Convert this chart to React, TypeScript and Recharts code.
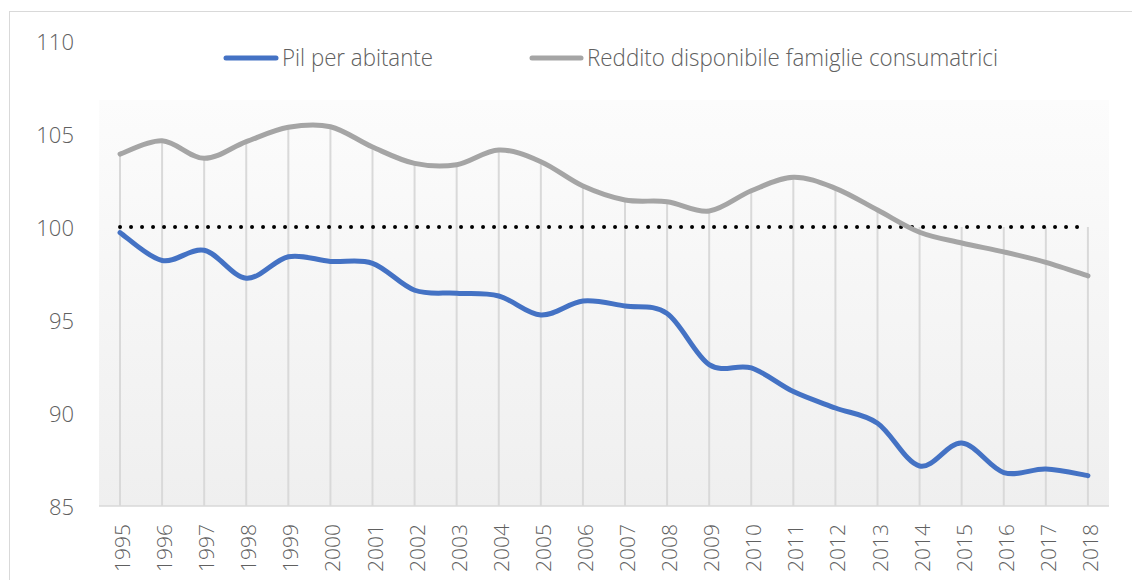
import React from 'react';
import { ComposedChart, Line, Bar, XAxis, YAxis, CartesianGrid, Legend } from 'recharts';

const years = ['1995','1996','1997','1998','1999','2000','2001','2002','2003','2004','2005','2006','2007','2008','2009','2010','2011','2012','2013','2014','2015','2016','2017','2018'];
const pilPerAbitante = [99.7, 98.2, 98.75, 97.25, 98.4, 98.15, 98.05, 96.6, 96.44, 96.29, 95.27, 96.02, 95.75, 95.35, 92.6, 92.42, 91.15, 90.27, 89.45, 87.15, 88.39, 86.8, 86.99, 86.63];
const redditoFamiglie = [103.92, 104.64, 103.69, 104.59, 105.36, 105.39, 104.3, 103.42, 103.35, 104.14, 103.51, 102.2, 101.45, 101.36, 100.86, 101.95, 102.67, 102.08, 100.91, 99.72, 99.14, 98.66, 98.1, 97.37];
const base100 = [100, 100, 100, 100, 100, 100, 100, 100, 100, 100, 100, 100, 100, 100, 100, 100, 100, 100, 100, 100, 100, 100, 100, 100];
const yTicks = [85, 90, 95, 100, 105, 110];

const seriesNames = ['Pil per abitante', 'Reddito disponibile famiglie consumatrici'];

const data = years.map((y, i) => ({
  year: y,
  pil: pilPerAbitante[i],
  reddito: redditoFamiglie[i],
  base: base100[i],
  drop: Math.max(pilPerAbitante[i], redditoFamiglie[i], base100[i]),
}));

const FONT = '"Open Sans", "Segoe UI", sans-serif';
const TEXT = '#606060';

// Excel-like smoothed line (Catmull-Rom / cardinal tension 0)
function excelCurve(context: any) {
  let pts: number[][] = [];
  return {
    areaStart() {},
    areaEnd() {},
    lineStart() { pts = []; },
    lineEnd() {
      const n = pts.length;
      if (!n) return;
      context.moveTo(pts[0][0], pts[0][1]);
      for (let i = 0; i < n - 1; i++) {
        const p0 = pts[Math.max(i - 1, 0)];
        const p1 = pts[i];
        const p2 = pts[i + 1];
        const p3 = pts[Math.min(i + 2, n - 1)];
        context.bezierCurveTo(
          p1[0] + (p2[0] - p0[0]) / 6, p1[1] + (p2[1] - p0[1]) / 6,
          p2[0] - (p3[0] - p1[0]) / 6, p2[1] - (p3[1] - p1[1]) / 6,
          p2[0], p2[1]
        );
      }
    },
    point(x: number, y: number) { pts.push([+x, +y]); },
  };
}

const YTick = (props: any) => {
  const { x, y, payload } = props;
  return (
    <text x={x} y={y} textAnchor="end" dominantBaseline="central" fill={TEXT} fontSize={22} fontFamily={FONT} fontWeight={300}>
      {payload.value}
    </text>
  );
};

const XTick = (props: any) => {
  const { x, y, payload } = props;
  return (
    <text transform={`translate(${x + 2},${y}) rotate(-90)`} textAnchor="end" dominantBaseline="central" fill={TEXT} fontSize={21} fontFamily={FONT} fontWeight={300}>
      {payload.value}
    </text>
  );
};

const renderLegend = () => (
  <svg width={1132} height={80} style={{ display: 'block' }}>
    <line x1={226} y1={58} x2={276} y2={58} stroke="#4472C4" strokeWidth={5} strokeLinecap="round" />
    <text x={282} y={66} fill={TEXT} fontSize={24} fontFamily={FONT} fontWeight={300} textLength={151} lengthAdjust="spacingAndGlyphs">{seriesNames[0]}</text>
    <line x1={532} y1={58} x2={581} y2={58} stroke="#A5A5A5" strokeWidth={5} strokeLinecap="round" />
    <text x={587} y={66} fill={TEXT} fontSize={24} fontFamily={FONT} fontWeight={300} textLength={411} lengthAdjust="spacingAndGlyphs">{seriesNames[1]}</text>
  </svg>
);

export default function App() {
  return (
    <div style={{ position: 'relative', width: 1132, height: 580, overflow: 'hidden', background: '#fff' }}>
      <style>{`html,body{margin:0;padding:0;overflow:hidden;background:#fff}`}</style>
      <div style={{ position: 'absolute', left: 9, top: 11, width: 1300, height: 800, border: '1px solid #d9d9d9', boxSizing: 'border-box' }} />
      <div style={{ position: 'absolute', left: 0, top: 0 }}>
        <ComposedChart width={1132} height={580} data={data} margin={{ top: 41, right: 23, bottom: 0, left: 0 }}>
          <defs>
            <linearGradient id="plotBg" x1="0" y1="0" x2="0" y2="1">
              <stop offset="0%" stopColor="#ffffff" />
              <stop offset="12.6%" stopColor="#ffffff" />
              <stop offset="12.7%" stopColor="#fcfcfc" />
              <stop offset="100%" stopColor="#efefef" />
            </linearGradient>
          </defs>
          <CartesianGrid horizontal={false} vertical={false} fill="url(#plotBg)" />
          <XAxis dataKey="year" interval={0} height={74} tickLine={false} tickSize={0} tickMargin={18}
            axisLine={{ stroke: '#d9d9d9', strokeWidth: 1.5 }} tick={<XTick />} />
          <YAxis domain={[85, 110]} ticks={yTicks} width={99} axisLine={false} tickLine={false} tickSize={0} tickMargin={25}
            tick={<YTick />} allowDataOverflow />
          <Legend layout="horizontal" verticalAlign="middle" align="center" content={renderLegend}
            wrapperStyle={{ left: 0, top: 0, width: 1132, height: 80 }} />
          <Bar dataKey="drop" barSize={2} fill="#d9d9d9" isAnimationActive={false} legendType="none" />
          <Line dataKey="base" type="linear" stroke="#000" strokeWidth={4} strokeDasharray="0 11" strokeLinecap="round"
            dot={false} activeDot={false} isAnimationActive={false} legendType="none" />
          <Line dataKey="reddito" name={seriesNames[1]} type={excelCurve as any} stroke="#A5A5A5" strokeWidth={5} strokeLinecap="round"
            dot={false} activeDot={false} isAnimationActive={false} />
          <Line dataKey="pil" name={seriesNames[0]} type={excelCurve as any} stroke="#4472C4" strokeWidth={5} strokeLinecap="round"
            dot={false} activeDot={false} isAnimationActive={false} />
        </ComposedChart>
      </div>
    </div>
  );
}
